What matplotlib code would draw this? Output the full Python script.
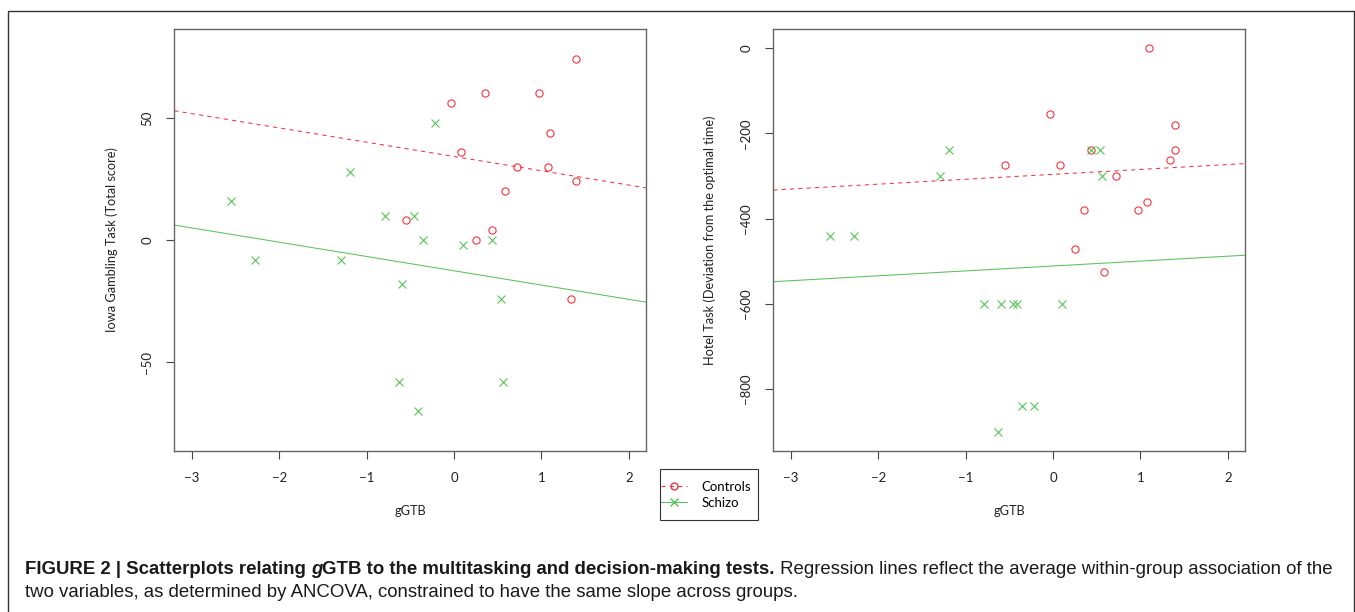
import matplotlib
matplotlib.use("Agg")
import matplotlib.pyplot as plt
from matplotlib.lines import Line2D
from matplotlib.patches import Rectangle
import numpy as np

# gGTB scores, one value per subject
ggtb_controls = [-0.553, -0.032, 0.079, 0.247, 0.357, 0.437, 0.579, 0.723,
                 0.967, 1.070, 1.100, 1.333, 1.391, 1.394]
ggtb_schizo = [-2.552, -2.272, -1.292, -1.190, -0.794, -0.626, -0.599, -0.462,
               -0.417, -0.350, -0.214, 0.107, 0.437, 0.536, 0.555]

# Iowa Gambling Task (total score)
iowa_controls = [8, 56, 36, 0, 60, 4, 20, 30, 60, 30, 44, -24, 24, 74]
iowa_schizo = [16, -8, -8, 28, 10, -58, -18, 10, -70, 0, 48, -2, 0, -24, -58]

# Hotel Task (deviation from the optimal time)
hotel_controls = [-275, -155, -275, -470, -380, -240, -525, -300,
                  -380, -360, 0, -262, -240, -180]
hotel_schizo = [-440, -440, -300, -240, -600, -900, -600, -600,
                -600, -840, -840, -600, -240, -240, -300]

# ANCOVA fits: common slope, group intercepts (controls, schizo)
iowa_slope = -5.85
iowa_intercepts = [34.2, -12.6]
hotel_slope = 11.5
hotel_intercepts = [-296.0, -511.0]

red = "#F0343F"
green = "#58C458"
W, H = 1355, 612

plt.rcParams['font.family'] = ['Lato', 'DejaVu Sans']
fig = plt.figure(figsize=(W / 100, H / 100), dpi=100)

# outer frame of the figure panel
fig.patches.append(Rectangle((8 / W, -0.05), (1354 - 8) / W, 1.05 - 11 / H,
                             transform=fig.transFigure, fill=False,
                             edgecolor="#333333", linewidth=1.0))


def panel(left_px, xs, ys, slope, intercepts, ylim, yticks, ylabel):
    ax = fig.add_axes([left_px / W, 1 - 451 / H, 472 / W, 422 / H])
    ax.set_xlim(-3.2, 2.2)
    ax.set_ylim(*ylim)
    xx = np.array([-3.2, 2.2])
    ax.plot(xx, intercepts[0] + slope * xx, color=red, lw=0.75,
            linestyle=(0, (4, 4)))
    ax.plot(xx, intercepts[1] + slope * xx, color=green, lw=0.75)
    ax.plot(xs[0], ys[0], 'o', mfc='none', mec=red, mew=0.8, ms=5.2,
            linestyle='none')
    ax.plot(xs[1], ys[1], 'x', color=green, mew=0.8, ms=5.5,
            linestyle='none')
    ax.set_xticks([-3, -2, -1, 0, 1, 2])
    ax.set_xticklabels(['\u22123', '\u22122', '\u22121', '0', '1', '2'])
    ax.set_yticks(yticks)
    ax.set_yticklabels([str(t).replace('-', '\u2212') for t in yticks],
                       rotation=90, va='center')
    ax.tick_params(length=6, width=0.8, color="#444444", labelsize=9.5,
                   pad=9, labelcolor="#222222")
    for s in ax.spines.values():
        s.set_color("#666666")
        s.set_linewidth(1.0)
    ax.set_xlabel('gGTB', fontsize=9.2, color="#222222")
    ax.xaxis.set_label_coords(0.5, -0.128)
    ax.set_ylabel(ylabel, fontsize=9.2, color="#222222")
    return ax


ax1 = panel(174.3, [ggtb_controls, ggtb_schizo], [iowa_controls, iowa_schizo],
            iowa_slope, iowa_intercepts, (-86.4, 86.4), [-50, 0, 50],
            'Iowa Gambling Task (Total score)')
ax1.yaxis.set_label_coords(-0.119, 0.5)

ax2 = panel(773.3, [ggtb_controls, ggtb_schizo], [hotel_controls, hotel_schizo],
            hotel_slope, hotel_intercepts, (-945, 45), [-800, -600, -400, -200, 0],
            'Hotel Task (Deviation from the optimal time)')
ax2.yaxis.set_label_coords(-0.1215, 0.5)

# legend box drawn separately (R-style padding)
fig.patches.append(Rectangle((660 / W, 1 - 520 / H), 98 / W, 51 / H,
                             transform=fig.transFigure, fill=False,
                             edgecolor="#333333", linewidth=0.8))
handles = [Line2D([], [], color=red, lw=0.75, linestyle=(0, (4, 4)),
                  marker='o', mfc='none', mec=red, ms=5),
           Line2D([], [], color=green, lw=0.75, marker='x', ms=5.5)]
fig.legend(handles, ['Controls', 'Schizo'], loc='upper left',
           bbox_to_anchor=(661 / W, 1 - 481 / H), fontsize=9.5,
           frameon=False, borderaxespad=0, borderpad=0,
           handlelength=1.95, labelspacing=0.27, handletextpad=1.1)

# caption, built piece by piece for mixed bold / italic text
fig.canvas.draw()
renderer = fig.canvas.get_renderer()
cap_font = ['Liberation Sans', 'DejaVu Sans']
cap_size = 13.45
pieces = [("FIGURE 2 | Scatterplots relating ", 'bold', 'normal'),
          ("g", 'bold', 'italic'),
          ("GTB to the multitasking and decision-making tests.", 'bold', 'normal'),
          (" Regression lines reflect the average within-group association of the",
           'normal', 'normal')]
x = 25
y1 = 1 - 574 / H
for txt, weight, style in pieces:
    t = fig.text(x / W, y1, txt, fontsize=cap_size, fontweight=weight,
                 fontstyle=style, family=cap_font, color="#1a1a1a",
                 va='baseline', ha='left')
    bb = t.get_window_extent(renderer)
    x = bb.x1
fig.text(25 / W, 1 - 597 / H,
         "two variables, as determined by ANCOVA, constrained to have the same slope across groups.",
         fontsize=cap_size, family=cap_font, color="#1a1a1a", va='baseline', ha='left')

fig.savefig('out.png', dpi=100)
